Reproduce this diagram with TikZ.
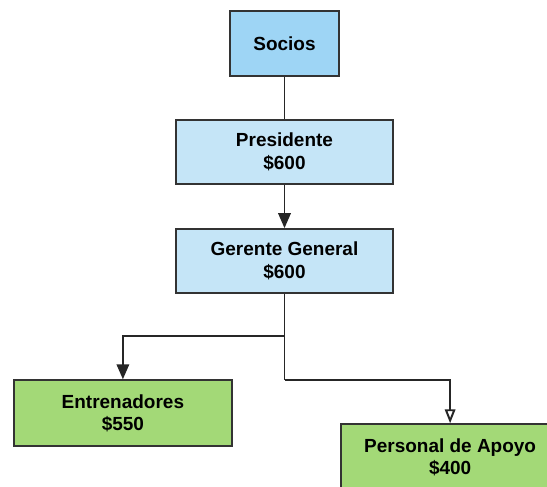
\documentclass[tikz,border=0pt]{standalone}
\usepackage{fontspec}
\setmainfont{Liberation Sans}
\usetikzlibrary{arrows.meta,positioning}
\definecolor{sociosblue}{HTML}{9ED5F5}
\definecolor{paleblue}{HTML}{C5E5F7}
\definecolor{staffgreen}{HTML}{A3D977}
\definecolor{edgegray}{HTML}{333333}
\tikzset{
  rolebox/.style  ={draw=edgegray, line width=1.2pt, align=center,
                    font=\fontsize{10.8}{13}\selectfont\bfseries,
                    inner sep=0pt},
  topbox/.style   ={rolebox, fill=sociosblue, minimum width=2.18cm,
                    minimum height=1.3cm},
  mgrbox/.style   ={rolebox, fill=paleblue, minimum width=4.34cm,
                    minimum height=1.28cm},
  staffbox/.style ={rolebox, fill=staffgreen, minimum width=4.36cm,
                    minimum height=1.32cm},
  link/.style     ={line width=1.1pt, black!85},
  fullarr/.style  ={link, -{Triangle[length=3mm,width=2.5mm]}},
  openarr/.style  ={link, -{Triangle[open,length=2.8mm,width=2.1mm,fill=white]}},
}

\begin{document}
\begin{tikzpicture}
\clip (0,0) rectangle (10.94,-9.74);
\fill[white] (0,0) rectangle (10.94,-9.74);
\node[topbox] (socios) at (5.69,-0.87) {Socios};
\node[mgrbox, below=0.84cm of socios] (pres) {Presidente\\\$600};
\node[mgrbox, below=0.86cm of pres] (gerente) {Gerente General\\\$600};
\node[staffbox, below left=1.7cm and -1.16cm of gerente] (entren) {Entrenadores\\\$550};
\node[staffbox, below right=2.58cm and -1.08cm of gerente] (apoyo) {Personal de Apoyo\\\$400};
\coordinate[below=0.84cm of gerente.south] (split);
\coordinate[below=0.88cm of split] (bend);
\draw[link] (socios) -- (pres);
\draw[fullarr] (pres) -- (gerente);
\draw[link] (gerente.south) -- (split);
\draw[fullarr] (split) -| (entren.north);
\draw[link] (split) -- (bend);
\draw[openarr] (bend) -| (apoyo.north);
\end{tikzpicture}
\end{document}
